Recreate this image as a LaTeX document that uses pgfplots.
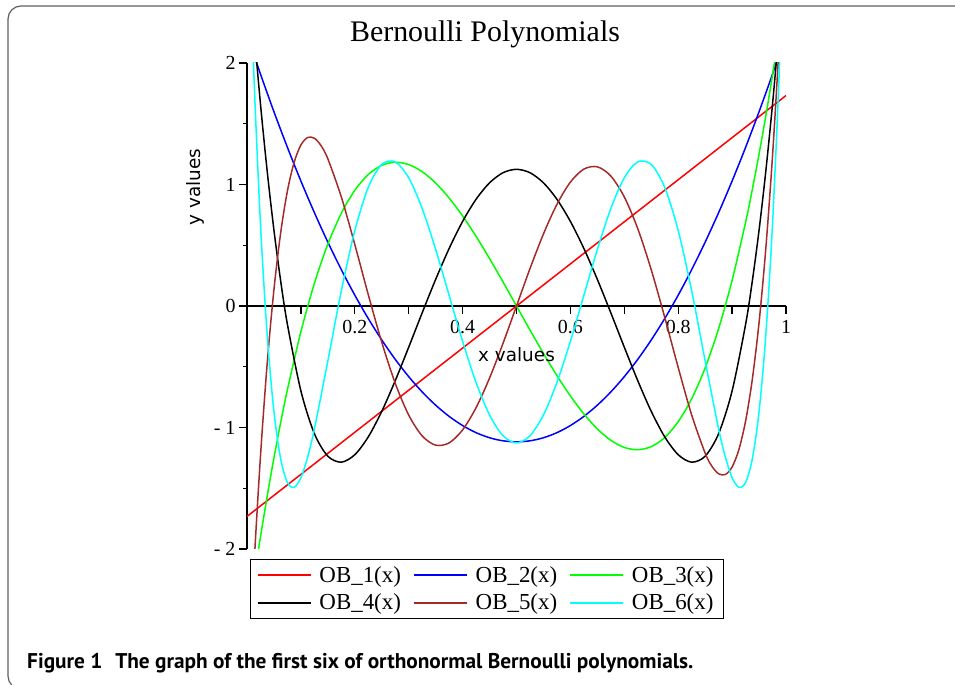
\documentclass[border=0pt]{standalone}
\usepackage{fontspec}
\setmainfont{Liberation Serif}
\newfontfamily\labelfont{DejaVu Sans}
\newfontfamily\capfont{PT Sans}
\usepackage{pgfplots}
\pgfplotsset{compat=1.18}
\definecolor{obred}{RGB}{255,0,0}
\definecolor{obblue}{RGB}{0,0,255}
\definecolor{obgreen}{RGB}{0,255,0}
\definecolor{obblack}{RGB}{0,0,0}
\definecolor{obbrown}{RGB}{165,42,42}
\definecolor{obcyan}{RGB}{0,255,255}
\definecolor{framegray}{RGB}{95,95,95}
\begin{document}
\begin{tikzpicture}
\useasboundingbox (0,0) rectangle (955bp,685bp);
\draw[line width=1.2bp, draw=framegray, rounded corners=13bp] (8bp,-4bp) rectangle (980bp,679bp);
\node[anchor=base west, inner sep=0pt, font=\capfont\bfseries\fontsize{21.4}{25}\selectfont] at (27bp,17bp) {Figure 1\hspace{0.6em}The graph of the first six of orthonormal Bernoulli polynomials.};
\begin{axis}[
  at={(247bp,136bp)}, anchor=south west,
  scale only axis, width=539bp, height=486bp,
  xmin=0, xmax=1, ymin=-2, ymax=2,
  axis lines=middle,
  axis line style={line width=1.5bp, -},
  tick align=outside,
  major tick length=8bp, minor tick length=4bp,
  tick style={line width=1.3bp, black},
  xtick={0.2,0.4,0.6,0.8,1}, xticklabels={0.2,0.4,0.6,0.8,1},
  extra x ticks={0.1,0.3,0.5,0.7,0.9}, extra x tick labels={},
  ytick={-2,-1,0,1,2}, yticklabels={-\ 2,-\ 1,0,1,2},
  minor ytick={-1.5,-0.5,0.5,1.5},
  hide obscured y ticks=false, hide obscured x ticks=false,
  ticklabel style={font=\fontsize{20}{24}\selectfont},
  xticklabel style={yshift=-3bp},
  title={Bernoulli Polynomials},
  title style={at={(axis description cs:0.4416,1.031)}, anchor=base, inner sep=0pt, font=\fontsize{30}{34}\selectfont},
  xlabel={x values}, ylabel={y values},
  every axis x label/.style={at={(axis description cs:0.5,0.399)}, anchor=center, font=\labelfont\fontsize{18.5}{22}\selectfont},
  every axis y label/.style={at={(axis description cs:-0.0955,0.745)}, anchor=center, rotate=90, font=\labelfont\fontsize{18.5}{22}\selectfont},
  legend columns=3,
  legend cell align=left,
  legend style={at={(axis description cs:0.0056,-0.0206)}, anchor=north west, line width=1.3bp, inner xsep=6bp, inner ysep=4.5bp, row sep=5bp, font=\fontsize{23}{27}\selectfont, nodes={inner xsep=4bp, inner ysep=2.5bp}, /tikz/every odd column/.append style={column sep=4bp}, /tikz/every even column/.append style={column sep=8bp}},
  legend image code/.code={\draw[#1] (0bp,0bp) -- (53bp,0bp);},
  legend image post style={line width=1.8bp},
]
\addplot[color=obred, line width=1.5bp] coordinates {(0,-1.7321) (1,1.7321)};
\addlegendentry{OB\_1(x)}
\addplot[color=obblue, line width=1.5bp, smooth] coordinates {
(0,2.2361) (0.025,1.9090) (0.05,1.5988) (0.075,1.3053) (0.1,1.0286) (0.125,0.7686) (0.15,0.5255) (0.175,0.2991) (0.2,0.0894) (0.225,-0.1034) (0.25,-0.2795) (0.275,-0.4388) (0.3,-0.5814) (0.325,-0.7072) (0.35,-0.8162) (0.375,-0.9084) (0.4,-0.9839) (0.425,-1.0426) (0.45,-1.0845) (0.475,-1.1096) (0.5,-1.1180) (0.525,-1.1096) (0.55,-1.0845) (0.575,-1.0426) (0.6,-0.9839) (0.625,-0.9084) (0.65,-0.8162) (0.675,-0.7072) (0.7,-0.5814) (0.725,-0.4388) (0.75,-0.2795) (0.775,-0.1034) (0.8,0.0894) (0.825,0.2991) (0.85,0.5255) (0.875,0.7686) (0.9,1.0286) (0.925,1.3053) (0.95,1.5988) (0.975,1.9090) (1,2.2361)};
\addlegendentry{OB\_2(x)}
\addplot[color=obgreen, line width=1.5bp, smooth] coordinates {
(0,-2.6458) (0.0125,-2.2612) (0.025,-1.9008) (0.0375,-1.5640) (0.05,-1.2501) (0.0625,-0.9586) (0.075,-0.6887) (0.1,-0.2117) (0.125,0.1860) (0.15,0.5093) (0.175,0.7631) (0.2,0.9525) (0.225,1.0823) (0.25,1.1575) (0.275,1.1831) (0.3,1.1641) (0.325,1.1054) (0.35,1.0120) (0.375,0.8888) (0.4,0.7408) (0.425,0.5730) (0.45,0.3902) (0.475,0.1976) (0.5,0) (0.525,-0.1976) (0.55,-0.3902) (0.575,-0.5730) (0.6,-0.7408) (0.625,-0.8888) (0.65,-1.0120) (0.675,-1.1054) (0.7,-1.1641) (0.725,-1.1831) (0.75,-1.1575) (0.775,-1.0823) (0.8,-0.9525) (0.825,-0.7631) (0.85,-0.5093) (0.875,-0.1860) (0.9,0.2117) (0.925,0.6887) (0.9375,0.9586) (0.95,1.2501) (0.9625,1.5640) (0.975,1.9008) (0.9875,2.2612) (1,2.6458)};
\addlegendentry{OB\_3(x)}
\addplot[color=obblack, line width=1.5bp, smooth] coordinates {
(0,3.0) (0.0125,2.2914) (0.025,1.6623) (0.0375,1.1080) (0.05,0.6238) (0.0625,0.2054) (0.075,-0.1518) (0.1,-0.6990) (0.125,-1.0503) (0.15,-1.2362) (0.175,-1.2852) (0.2,-1.2240) (0.225,-1.0771) (0.25,-0.8672) (0.275,-0.6149) (0.3,-0.3390) (0.325,-0.0562) (0.35,0.2188) (0.375,0.4731) (0.4,0.6960) (0.425,0.8785) (0.45,1.0138) (0.475,1.0970) (0.5,1.1250) (0.525,1.0970) (0.55,1.0138) (0.575,0.8785) (0.6,0.6960) (0.625,0.4731) (0.65,0.2188) (0.675,-0.0562) (0.7,-0.3390) (0.725,-0.6149) (0.75,-0.8672) (0.775,-1.0771) (0.8,-1.2240) (0.825,-1.2852) (0.85,-1.2362) (0.875,-1.0503) (0.9,-0.6990) (0.925,-0.1518) (0.9375,0.2054) (0.95,0.6238) (0.9625,1.1080) (0.975,1.6623) (0.9875,2.2914) (1,3.0)};
\addlegendentry{OB\_4(x)}
\addplot[color=obbrown, line width=1.5bp, smooth] coordinates {
(0,-3.3166) (0.0125,-2.1782) (0.025,-1.2363) (0.0375,-0.4710) (0.05,0.1364) (0.0625,0.6037) (0.075,0.9474) (0.0875,1.1831) (0.1,1.3251) (0.1125,1.3869) (0.125,1.3810) (0.1375,1.3189) (0.15,1.2112) (0.175,0.8971) (0.2,0.5062) (0.225,0.0935) (0.25,-0.2980) (0.275,-0.6359) (0.3,-0.8976) (0.325,-1.0695) (0.35,-1.1455) (0.375,-1.1267) (0.4,-1.0199) (0.425,-0.8368) (0.45,-0.5931) (0.475,-0.3073) (0.5,0) (0.525,0.3073) (0.55,0.5931) (0.575,0.8368) (0.6,1.0199) (0.625,1.1267) (0.65,1.1455) (0.675,1.0695) (0.7,0.8976) (0.725,0.6359) (0.75,0.2980) (0.775,-0.0935) (0.8,-0.5062) (0.825,-0.8971) (0.85,-1.2112) (0.8625,-1.3189) (0.875,-1.3810) (0.8875,-1.3869) (0.9,-1.3251) (0.9125,-1.1831) (0.925,-0.9474) (0.9375,-0.6037) (0.95,-0.1364) (0.9625,0.4710) (0.975,1.2363) (0.9875,2.1782) (1,3.3166)};
\addlegendentry{OB\_5(x)}
\addplot[color=obcyan, line width=1.5bp, smooth] coordinates {
(0,3.6056) (0.0125,1.9366) (0.025,0.6759) (0.0375,-0.2414) (0.05,-0.8695) (0.0625,-1.2586) (0.075,-1.4530) (0.0875,-1.4927) (0.1,-1.4126) (0.1125,-1.2436) (0.125,-1.0124) (0.15,-0.4517) (0.175,0.1250) (0.2,0.6205) (0.225,0.9763) (0.25,1.1655) (0.275,1.1862) (0.3,1.0551) (0.325,0.8023) (0.35,0.4658) (0.375,0.0875) (0.4,-0.2905) (0.425,-0.6297) (0.45,-0.8972) (0.475,-1.0680) (0.5,-1.1267) (0.525,-1.0680) (0.55,-0.8972) (0.575,-0.6297) (0.6,-0.2905) (0.625,0.0875) (0.65,0.4658) (0.675,0.8023) (0.7,1.0551) (0.725,1.1862) (0.75,1.1655) (0.775,0.9763) (0.8,0.6205) (0.825,0.1250) (0.85,-0.4517) (0.875,-1.0124) (0.8875,-1.2436) (0.9,-1.4126) (0.9125,-1.4927) (0.925,-1.4530) (0.9375,-1.2586) (0.95,-0.8695) (0.9625,-0.2414) (0.975,0.6759) (0.9875,1.9366) (1,3.6056)};
\addlegendentry{OB\_6(x)}
\end{axis}
\end{tikzpicture}
\end{document}
